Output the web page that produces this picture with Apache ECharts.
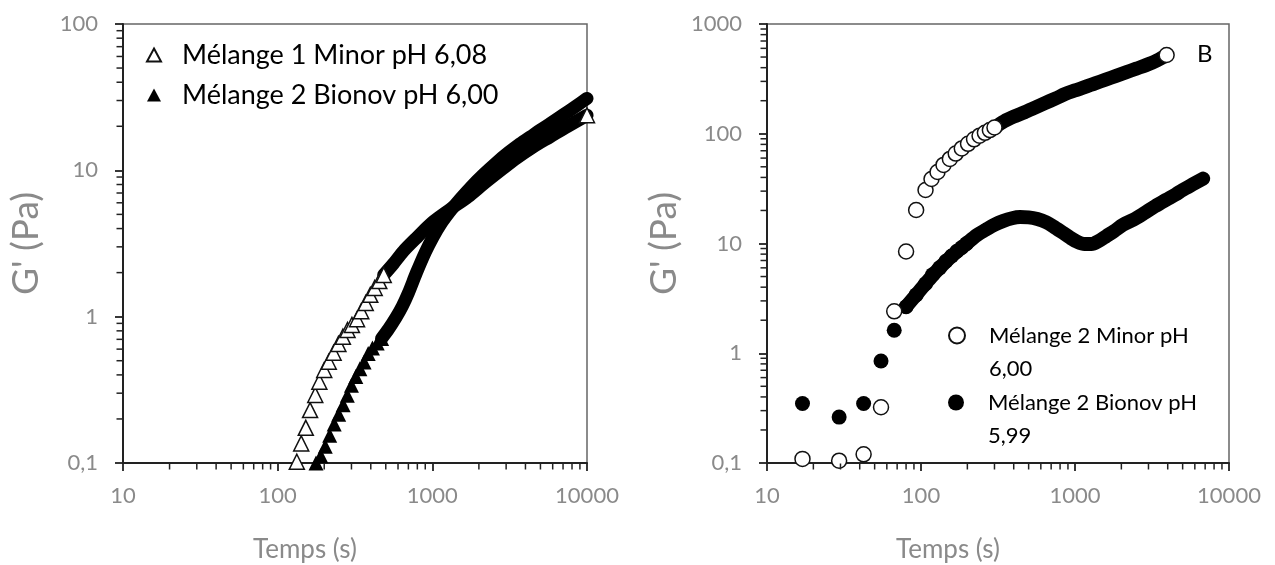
<!DOCTYPE html>
<html><head><meta charset="utf-8">
<script src="https://cdn.jsdelivr.net/npm/echarts/dist/echarts.min.js"></script>
<style>html,body{margin:0;padding:0;background:#fff}#c{width:1275px;height:565px}</style>
</head><body><div id="c"></div>
<script>
// ---------- tick values ----------
const xMinorTicks = [20,30,40,50,60,70,80,90,200,300,400,500,600,700,800,900,2000,3000,4000,5000,6000,7000,8000,9000];
const yMinorTicksA = [0.2,0.3,0.4,0.5,0.6,0.7,0.8,0.9,2,3,4,5,6,7,8,9,20,30,40,50,60,70,80,90];
const yMinorTicksB = [0.2,0.3,0.4,0.5,0.6,0.7,0.8,0.9,2,3,4,5,6,7,8,9,20,30,40,50,60,70,80,90,200,300,400,500,600,700,800,900];

// ---------- names ----------
const nameA1 = 'Mélange 1 Minor pH 6,08';
const nameA2 = 'Mélange 2 Bionov pH 6,00';
const nameB1 = 'Mélange 2 Minor pH 6,00';
const nameB2 = 'Mélange 2 Bionov pH 5,99';

// ---------- chart A (left) ----------
const tA_minor_pts = [133,142,152,162,175,186,200,214,230,247,264,283,302,326,347,371,397,424,454,485,10000];
const gA_minor_pts = [0.102,0.136,0.174,0.23,0.292,0.359,0.432,0.492,0.567,0.651,0.73,0.811,0.878,0.96,1.09,1.24,1.41,1.57,1.75,1.93,23.8];
const tA_minor_band = [485,560,650,800,1000,1300,1700,2150,2800,3500,4500,5800,7500,10000];
const gA_minor_band = [1.93,2.3,2.8,3.5,4.4,5.4,6.6,8.1,10.1,12.1,14.5,17.0,20.0,23.8];

const tA_bionov_pts = [177,190,203,217,232,248,265,282,300,320,340,362,385,410,440,470];
const gA_bionov_pts = [0.1,0.112,0.13,0.155,0.185,0.215,0.25,0.29,0.34,0.39,0.44,0.49,0.56,0.61,0.66,0.71];
const tA_bionov_band = [470,520,580,640,700,790,900,1010,1150,1290,1500,1800,2150,2600,3100,3600,4300,5000,5800,7000,8500,10000];
const gA_bionov_band = [0.71,0.82,0.98,1.18,1.45,2.0,2.75,3.5,4.4,5.2,6.3,7.8,9.4,11.3,13.2,14.9,16.9,18.9,20.9,23.9,27.5,31];

// ---------- chart B (right) ----------
const tB_minor_pts = [17,29.4,42.4,55,67,80,93,107,117,128,140,154,168,184,202,221,240,260,280,300,3935];
const gB_minor_pts = [0.109,0.105,0.12,0.322,2.41,8.45,20.2,30.7,38.7,44.8,52,59,66,73.5,81,89,96,102,108,114,522];
const tB_minor_band = [300,347,400,471,550,638,750,862,1000,1166,1350,1580,1850,2138,2500,2893,3400,3935];
const gB_minor_band = [114,130,143,157,173,190,210,230,248,267,288,311,337,362,392,422,465,522];

const tB_bionov_pts = [17,29.4,42.4,55,67,80,93,107,119,132,145,158,171,184,198];
const gB_bionov_pts = [0.348,0.262,0.348,0.85,1.62,2.65,3.4,4.3,5.2,6.0,6.9,7.7,8.5,9.2,10.0];
const tB_bionov_band = [80,93,107,120,140,160,198,230,265,300,340,390,440,500,570,650,740,830,930,1030,1150,1280,1420,1600,1800,2050,2400,2800,3300,3900,4500,5000,5800,6800];
const gB_bionov_band = [2.65,3.4,4.3,5.2,6.5,7.8,10.0,11.9,13.4,14.8,16.0,17.0,17.4,17.3,16.7,15.6,14.0,12.6,11.3,10.4,9.9,9.9,10.5,11.7,13.0,14.8,16.5,18.8,21.8,25,28,30.7,34.5,39];

// ---------- helpers ----------
const zip = (a, b) => a.map((v, i) => [v, b[i]]);
const fmt = v => String(Number(Number(v).toPrecision(4))).replace('.', ',');
const FONT = 'Lato';
const GREY = '#8a8a8a';

function xAxisDef(gridIndex) {
  return {
    type: 'log', logBase: 10, gridIndex, min: 10, max: 10000,
    name: 'Temps (s)', nameLocation: 'middle', nameGap: 74,
    nameTextStyle: { fontFamily: FONT, fontSize: 26, color: GREY, padding: [0, 100, 0, 0] },
    axisLine: { show: true, onZero: false, lineStyle: { color: '#222', width: 2 } },
    axisTick: { show: true, inside: false, length: 8, lineStyle: { color: '#222', width: 1.8 } },
    axisLabel: { fontFamily: FONT, fontSize: 22, color: GREY, margin: 22, formatter: fmt, showMinLabel: true, showMaxLabel: true },
    splitLine: { show: false }
  };
}
function yAxisDef(gridIndex, max, gap) {
  return {
    type: 'log', logBase: 10, gridIndex, min: 0.1, max,
    name: "G' (Pa)", nameLocation: 'middle', nameGap: gap, nameRotate: 90,
    nameTextStyle: { fontFamily: FONT, fontSize: 37, color: GREY },
    axisLine: { show: true, onZero: false, lineStyle: { color: '#222', width: 2 } },
    axisTick: { show: true, inside: false, length: 8, lineStyle: { color: '#222', width: 1.8 } },
    axisLabel: { fontFamily: FONT, fontSize: 22, color: GREY, margin: 25, formatter: fmt, showMinLabel: true, showMaxLabel: true },
    splitLine: { show: false }
  };
}
// minor ticks: tiny bar symbols placed on the axes by the library's scales
function minorTicksX(idx, vals, yMin) {
  return {
    type: 'scatter', xAxisIndex: idx, yAxisIndex: idx, data: vals.map(v => [v, yMin]),
    symbol: 'rect', symbolSize: [1.5, 6], symbolOffset: [0, 3.5], clip: false, silent: true, z: 20,
    itemStyle: { color: '#222', opacity: 1 }
  };
}
function minorTicksY(idx, vals, xMin) {
  return {
    type: 'scatter', xAxisIndex: idx, yAxisIndex: idx, data: vals.map(v => [xMin, v]),
    symbol: 'rect', symbolSize: [6, 1.5], symbolOffset: [-3.5, 0], clip: false, silent: true, z: 20,
    itemStyle: { color: '#222', opacity: 1 }
  };
}
function band(idx, t, g, width, z) {
  return {
    type: 'line', xAxisIndex: idx, yAxisIndex: idx, data: zip(t, g), symbol: 'none',
    silent: true, clip: false, z, smooth: 0.3,
    lineStyle: { color: '#000', width, cap: 'round', join: 'round' }
  };
}
function marks(idx, name, t, g, symbol, size, open, z) {
  return {
    type: 'scatter', name, xAxisIndex: idx, yAxisIndex: idx, data: zip(t, g),
    symbol, symbolSize: size, clip: false, z, silent: true,
    itemStyle: open ? { color: '#fff', borderColor: '#111', borderWidth: 1.5, opacity: 1 }
                    : { color: '#000', borderColor: '#000', borderWidth: 0, opacity: 1 }
  };
}
// legend text for the right panel: a blank first line keeps the icon on the first text line
const splitLegend = n => ' \n' + n.replace(/ (\S+)$/, '\n$1');

const chart = echarts.init(document.getElementById('c'), null, { renderer: 'canvas' });
chart.setOption({
  animation: false,
  backgroundColor: '#fff',
  grid: [
    { left: 123, top: 24, width: 464, height: 439, show: true, borderColor: '#666', borderWidth: 1.5, backgroundColor: 'transparent', containLabel: false, outerBoundsMode: 'none' },
    { left: 767, top: 24, width: 462, height: 439, show: true, borderColor: '#666', borderWidth: 1.5, backgroundColor: 'transparent', containLabel: false, outerBoundsMode: 'none' }
  ],
  xAxis: [xAxisDef(0), xAxisDef(1)],
  yAxis: [yAxisDef(0, 100, 78), yAxisDef(1, 1000, 84)],
  legend: [
    {
      data: [{ name: nameA1, icon: 'triangle' }, { name: nameA2, icon: 'triangle' }],
      orient: 'vertical', left: 146, top: 35, padding: 0, itemGap: 0,
      itemWidth: 14, itemHeight: 13, selectedMode: false,
      textStyle: { fontFamily: FONT, fontSize: 27, color: '#000', lineHeight: 40, padding: [0, 0, 0, 16] }
    },
    {
      data: [{ name: nameB1, icon: 'circle' }],
      orient: 'vertical', left: 948, top: 286, padding: 0,
      itemWidth: 16, itemHeight: 16, selectedMode: false,
      formatter: splitLegend,
      textStyle: { fontFamily: FONT, fontSize: 22, color: '#000', lineHeight: 33, padding: [0, 0, 0, 19] }
    },
    {
      data: [{ name: nameB2, icon: 'circle' }],
      orient: 'vertical', left: 948, top: 353, padding: 0,
      itemWidth: 16, itemHeight: 16, selectedMode: false,
      formatter: splitLegend,
      textStyle: { fontFamily: FONT, fontSize: 22, color: '#000', lineHeight: 33, padding: [0, 0, 0, 19] }
    }
  ],
  graphic: [
    { type: 'text', left: 1197, top: 42, style: { text: 'B', fontFamily: FONT, fontSize: 24, fill: '#000' } }
  ],
  series: [
    minorTicksX(0, xMinorTicks, 0.1),
    minorTicksY(0, yMinorTicksA, 10),
    minorTicksX(1, xMinorTicks, 0.1),
    minorTicksY(1, yMinorTicksB, 10),
    band(0, tA_minor_band, gA_minor_band, 13, 10),
    band(0, tA_bionov_band, gA_bionov_band, 13, 11),
    marks(0, nameA1, tA_minor_pts, gA_minor_pts, 'triangle', 15, true, 12),
    marks(0, nameA2, tA_bionov_pts, gA_bionov_pts, 'triangle', 15, false, 13),
    band(1, tB_minor_band, gB_minor_band, 14, 10),
    band(1, tB_bionov_band, gB_bionov_band, 14, 10),
    marks(1, nameB2, tB_bionov_pts, gB_bionov_pts, 'circle', 15, false, 12),
    marks(1, nameB1, tB_minor_pts, gB_minor_pts, 'circle', 15, true, 13)
  ]
});
</script></body></html>
